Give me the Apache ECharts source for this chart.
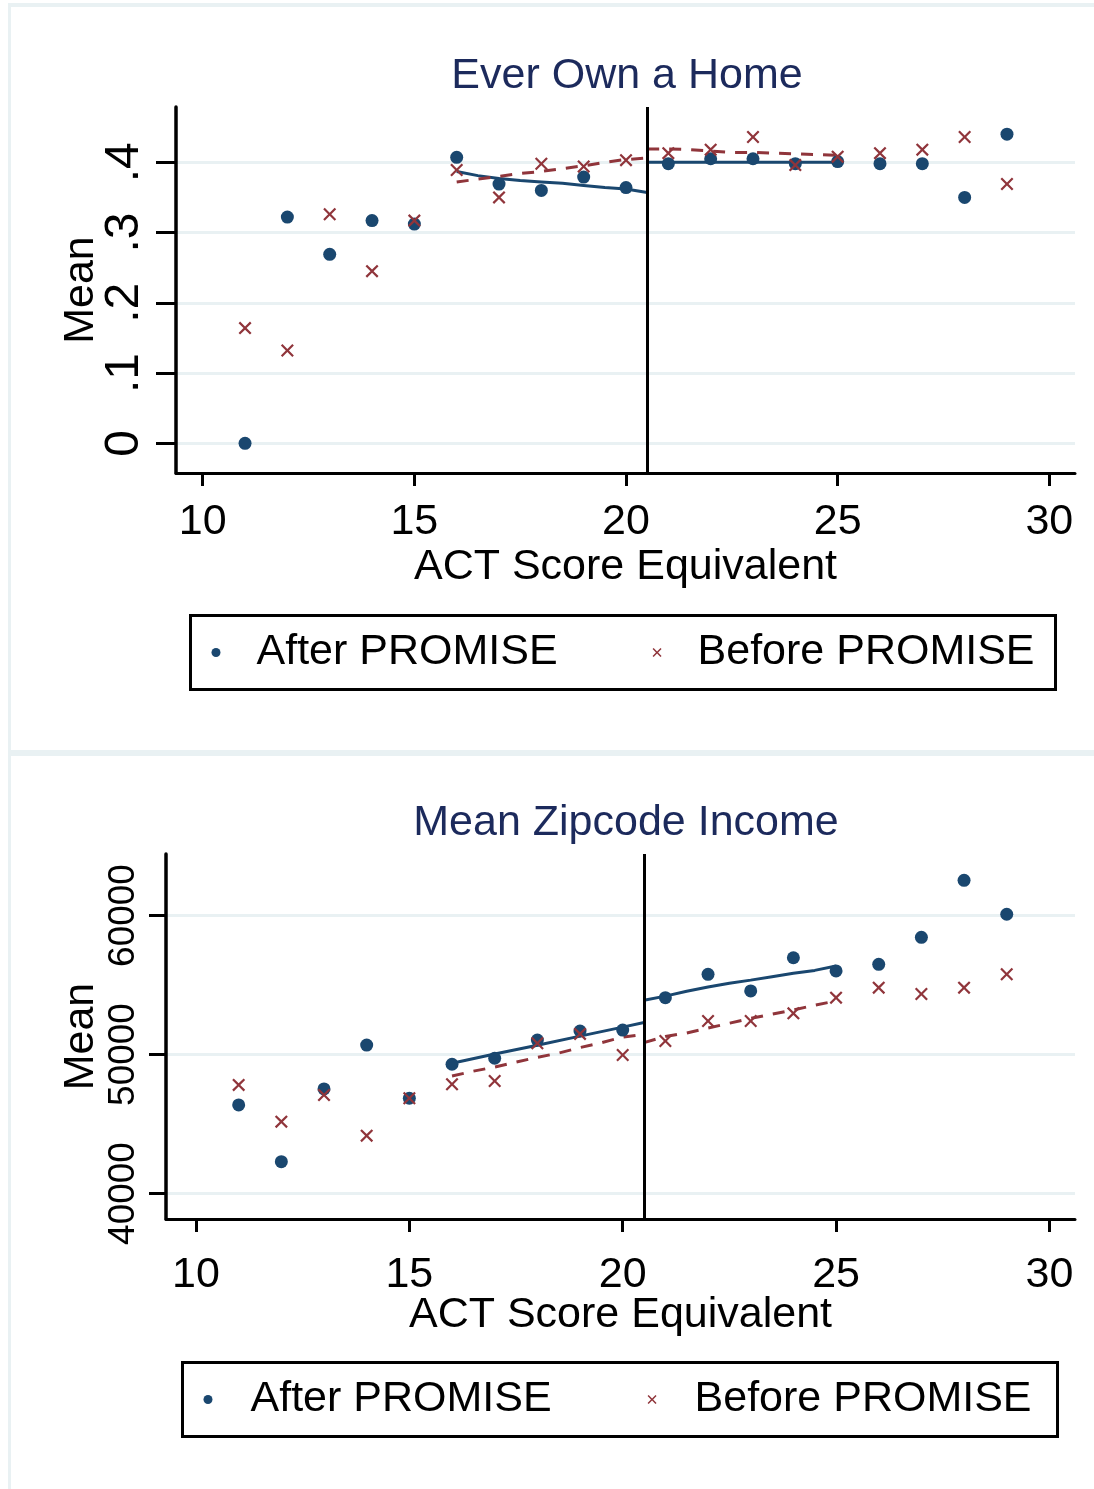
<!DOCTYPE html>
<html><head><meta charset="utf-8">
<script src="https://cdn.jsdelivr.net/npm/echarts@6/dist/echarts.min.js"></script>
<style>html,body{margin:0;padding:0;background:#fff}#c{width:1094px;height:1489px}</style>
</head><body><div id="c"></div>
<script>
// ---- data ----
const actScores = [11,12,13,14,15,16,17,18,19,20,21,22,23,24,25,26,27,28,29];
const homeAfter  = [0.000,0.322,0.269,0.317,0.312,0.407,0.369,0.360,0.379,0.364,0.398,0.405,0.405,0.398,0.401,0.398,0.398,0.350,0.440];
const homeBefore = [0.164,0.132,0.326,0.245,0.317,0.389,0.350,0.398,0.394,0.403,0.413,0.418,0.436,0.396,0.408,0.413,0.418,0.436,0.369];
const homeFitAfterLeft   = [[16,0.387],[16.5,0.381],[17,0.377],[17.5,0.374],[18,0.372],[18.5,0.370],[19,0.367],[19.5,0.364],[20,0.362],[20.5,0.357]];
const homeFitAfterRight  = [[20.5,0.400],[21,0.400],[22,0.400],[23,0.400],[24,0.400],[25,0.400]];
const homeFitBeforeLeft  = [[16,0.372],[16.5,0.376],[17,0.380],[17.5,0.384],[18,0.387],[18.5,0.391],[19,0.395],[19.5,0.400],[20,0.404],[20.5,0.406]];
const homeFitBeforeRight = [[20.5,0.419],[21,0.419],[21.5,0.418],[22,0.416],[22.5,0.414],[23,0.414],[23.5,0.413],[24,0.412],[24.5,0.411],[25,0.410]];

const incomeAfter  = [46370,42290,47520,50680,46850,49300,49730,51040,51690,51760,54090,55770,54570,56960,56010,56490,58430,62530,60090];
const incomeBefore = [47810,45170,47090,44160,46850,47860,48090,50810,51480,49960,50970,52410,52410,52960,54090,54810,54350,54810,55770];
const incomeFitAfterLeft   = [[16,49370],[17,50030],[18,50660],[19,51320],[20,51970],[20.5,52300]];
const incomeFitAfterRight  = [[20.5,53900],[21,54200],[21.5,54550],[22,54850],[22.5,55120],[23,55350],[23.5,55600],[24,55850],[24.5,56050],[25,56370]];
const incomeFitBeforeLeft  = [[16,48450],[16.5,48800],[17,49100],[17.5,49450],[18,49800],[18.5,50100],[19,50500],[19.5,50850],[20,51250],[20.5,51450]];
const incomeFitBeforeRight = [[20.5,50850],[21,51300],[21.5,51550],[22,51900],[22.5,52250],[23,52600],[23.5,52900],[24,53200],[24.5,53550],[25,53850]];

const xTicks = [10,15,20,25,30];
const homeYTicks = [0,0.1,0.2,0.3,0.4];
const incomeYTicks = [40000,50000,60000];
const cutoff = 20.5;
const titles = ['Ever Own a Home','Mean Zipcode Income'];
const xName = 'ACT Score Equivalent';
const yName = 'Mean';
const legendNames = ['After PROMISE','Before PROMISE'];

// ---- styling ----
const F = "'Liberation Sans', Arial, sans-serif";
const BLUE = '#1a476f', RED = '#90353b', GRIDC = '#e9f1f3', TITLEC = '#1c2a5c';
const XSYM = 'path://M0,1.2 L1.2,0 L5,3.8 L8.8,0 L10,1.2 L6.2,5 L10,8.8 L8.8,10 L5,6.2 L1.2,10 L0,8.8 L3.8,5 Z';

const zipPts = (xs, ys) => xs.map((x,i)=>[x, ys[i]]);

function xAxisCfg(gi, min, max, margin, nameGap) {
  return {
    gridIndex: gi, type: 'value', min: min, max: max,
    name: xName, nameLocation: 'middle', nameGap: nameGap, nameMoveOverlap: false,
    nameTextStyle: {fontFamily: F, fontSize: 43, color: '#000'},
    axisLine: {show: true, onZero: false, lineStyle: {color: '#000', width: 3}},
    axisTick: {show: true, customValues: xTicks, length: 13, lineStyle: {color: '#000', width: 3}},
    axisLabel: {show: true, customValues: xTicks, margin: margin, fontFamily: F, fontSize: 43, color: '#000'},
    splitLine: {show: false}
  };
}
function yAxisCfg(gi, min, max, ticks, fmt, tickLen, margin, fontSize, nameGap) {
  return {
    gridIndex: gi, type: 'value', min: min, max: max,
    name: yName, nameLocation: 'middle', nameGap: nameGap, nameMoveOverlap: false,
    nameTextStyle: {fontFamily: F, fontSize: 43, color: '#000'},
    axisLine: {show: true, onZero: false, lineStyle: {color: '#000', width: 3.5}},
    axisTick: {show: true, customValues: ticks, length: tickLen, lineStyle: {color: '#000', width: 3}},
    axisLabel: {show: true, customValues: ticks, rotate: 90, margin: margin, fontFamily: F, fontSize: fontSize, color: '#000', formatter: fmt},
    splitLine: {show: true, lineStyle: {color: GRIDC, width: 3}}
  };
}
const homeFmt = v => v === 0 ? '0' : String(+v.toFixed(1)).replace(/^0\./, '.');
const incFmt = v => String(v);

function scatter(name, xi, data, sym, color) {
  return {name: name, type: 'scatter', xAxisIndex: xi, yAxisIndex: xi, data: data,
    symbol: sym, symbolSize: 13,
    itemStyle: {color: color, opacity: 1}, z: 5, silent: true};
}
function fit(name, xi, data, color, dashed, withCut) {
  const s = {name: name, type: 'line', xAxisIndex: xi, yAxisIndex: xi, data: data,
    showSymbol: false, symbol: 'none', smooth: false, z: 4, silent: true,
    lineStyle: {color: color, width: 3, type: dashed ? [12, 10] : 'solid'}};
  if (withCut) {
    s.markLine = {silent: true, symbol: 'none', animation: false,
      label: {show: false}, lineStyle: {color: '#000', width: 3, type: 'solid'},
      data: [{xAxis: cutoff}]};
  }
  return s;
}
function legendCfg(left, top, textPad, gap, padR) {
  return {
    left: left, top: top, orient: 'horizontal',
    data: [{name: legendNames[0], icon: 'circle'}, {name: legendNames[1], icon: XSYM}],
    itemWidth: 9, itemHeight: 9, itemGap: gap,
    borderColor: '#000', borderWidth: 3, padding: [15, padR, 15, 21],
    textStyle: {fontFamily: F, fontSize: 43, color: '#000', lineHeight: 44, padding: [0, 0, 0, textPad]},
    selectedMode: false
  };
}

const chart = echarts.init(document.getElementById('c'), null, {renderer: 'canvas'});
chart.setOption({
  animation: false,
  backgroundColor: '#fff',
  title: [
    {text: titles[0], left: 622, top: 50, textAlign: 'center', textStyle: {fontFamily: F, fontSize: 43, fontWeight: 'normal', color: TITLEC}},
    {text: titles[1], left: 621, top: 797, textAlign: 'center', textStyle: {fontFamily: F, fontSize: 43, fontWeight: 'normal', color: TITLEC}}
  ],
  grid: [
    {left: 176, top: 107, width: 899, height: 366, containLabel: false},
    {left: 166, top: 854, width: 909, height: 365, containLabel: false}
  ],
  xAxis: [
    xAxisCfg(0, 9.369, 30.607, 28, 73),
    xAxisCfg(1, 9.297, 30.600, 35, 75)
  ],
  yAxis: [
    yAxisCfg(0, -0.0423, 0.4787, homeYTicks, homeFmt, 20, 27, 48, 73),
    yAxisCfg(1, 38165, 64424, incomeYTicks, incFmt, 17, 24, 37, 63)
  ],
  legend: [legendCfg(190.5, 615.5, 31, 95, 21), legendCfg(182.5, 1362.5, 33, 96, 26)],
  graphic: [
    {type: 'rect', shape: {x: 8, y: 3, width: 1086, height: 4}, style: {fill: GRIDC}, silent: true},
    {type: 'rect', shape: {x: 8, y: 3, width: 3, height: 1486}, style: {fill: GRIDC}, silent: true},
    {type: 'rect', shape: {x: 8, y: 750, width: 1086, height: 6}, style: {fill: GRIDC}, silent: true}
  ],
  series: [
    scatter(legendNames[0], 0, zipPts(actScores, homeAfter), 'circle', BLUE),
    scatter(legendNames[1], 0, zipPts(actScores, homeBefore), XSYM, RED),
    fit('homeFitAfterLeft', 0, homeFitAfterLeft, BLUE, false, true),
    fit('homeFitAfterRight', 0, homeFitAfterRight, BLUE, false, false),
    fit('homeFitBeforeLeft', 0, homeFitBeforeLeft, RED, true, false),
    fit('homeFitBeforeRight', 0, homeFitBeforeRight, RED, true, false),
    scatter(legendNames[0], 1, zipPts(actScores, incomeAfter), 'circle', BLUE),
    scatter(legendNames[1], 1, zipPts(actScores, incomeBefore), XSYM, RED),
    fit('incFitAfterLeft', 1, incomeFitAfterLeft, BLUE, false, true),
    fit('incFitAfterRight', 1, incomeFitAfterRight, BLUE, false, false),
    fit('incFitBeforeLeft', 1, incomeFitBeforeLeft, RED, true, false),
    fit('incFitBeforeRight', 1, incomeFitBeforeRight, RED, true, false)
  ]
});
</script></body></html>
